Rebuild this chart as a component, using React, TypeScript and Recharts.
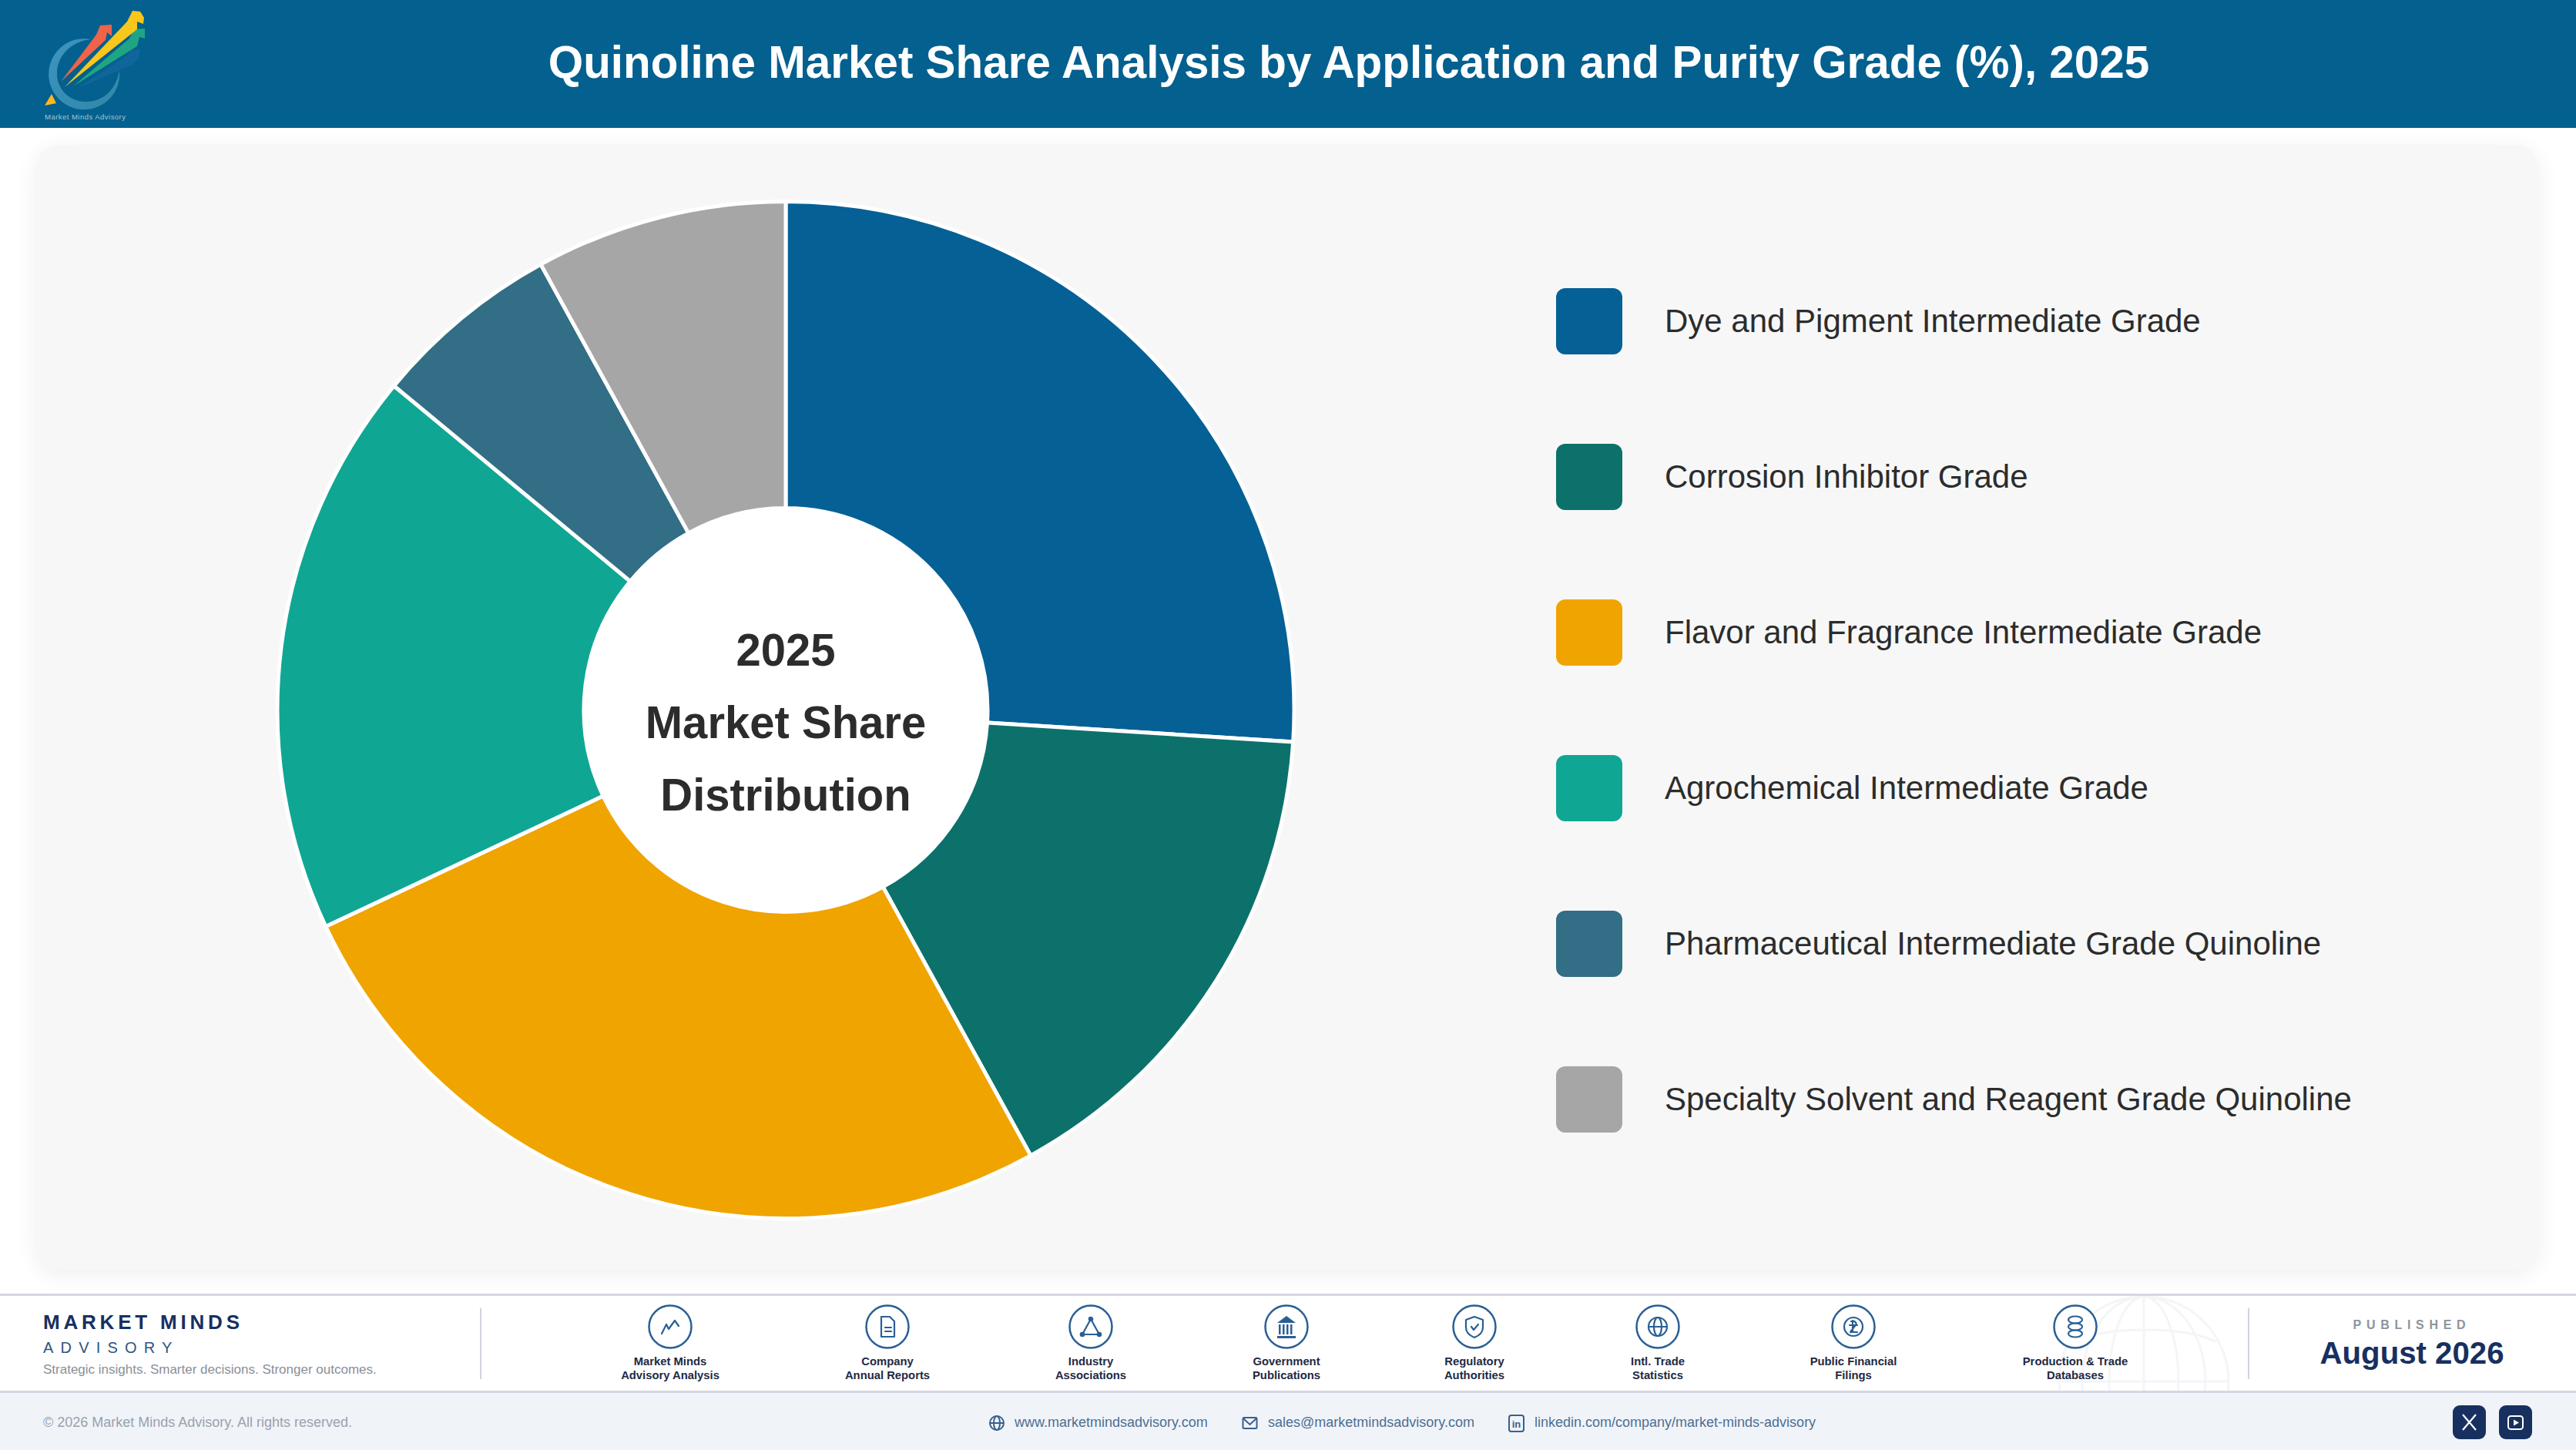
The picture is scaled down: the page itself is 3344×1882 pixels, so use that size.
import React from "react";
import { PieChart, Pie, Cell, Legend } from "recharts";

const categories = [
  "Dye and Pigment Intermediate Grade",
  "Corrosion Inhibitor Grade",
  "Flavor and Fragrance Intermediate Grade",
  "Agrochemical Intermediate Grade",
  "Pharmaceutical Intermediate Grade Quinoline",
  "Specialty Solvent and Reagent Grade Quinoline",
];
const shares = [26, 16, 26, 18, 6, 8];
const colors = ["#056096", "#0C716B", "#F0A400", "#10A694", "#326E85", "#A6A6A6"];
const centerLines = ["2025", "Market Share", "Distribution"];
const title = "Quinoline Market Share Analysis by Application and Purity Grade (%), 2025";
const sources = [
  ["Market Minds", "Advisory Analysis"],
  ["Company", "Annual Reports"],
  ["Industry", "Associations"],
  ["Government", "Publications"],
  ["Regulatory", "Authorities"],
  ["Intl. Trade", "Statistics"],
  ["Public Financial", "Filings"],
  ["Production & Trade", "Databases"],
];
const sourceX = [870, 1152, 1416, 1670, 1914, 2152, 2406, 2694];

const rows = categories.map((name, i) => ({ name, value: shares[i] }));
const FONT = "'Liberation Sans', Arial, sans-serif";
const NAVY = "#17305F";
const ICON = "#2A5F95";

const abs = (s: React.CSSProperties): React.CSSProperties => ({ position: "absolute", whiteSpace: "nowrap", ...s });

function SourceGlyph({ i }: { i: number }) {
  const p = { fill: "none", stroke: ICON, strokeWidth: 2.2, strokeLinejoin: "round" as const, strokeLinecap: "round" as const };
  switch (i) {
    case 0:
      return <path d="M-11 9 L-5 -3 L-2 3 L6 -8 L11 -1" {...p} />;
    case 1:
      return (
        <g {...p}>
          <path d="M-8 -13 H3 L9 -7 V13 H-8 Z" />
          <path d="M-3 1 H5 M-3 6 H5" />
        </g>
      );
    case 2:
      return (
        <g {...p}>
          <path d="M0 -10 L-11 10 H11 Z" />
          <circle cx="0" cy="-10" r="2.2" fill={ICON} />
          <circle cx="-11" cy="10" r="2.2" fill={ICON} />
          <circle cx="11" cy="10" r="2.2" fill={ICON} />
        </g>
      );
    case 3:
      return (
        <g fill={ICON}>
          <path d="M0 -14 L12 -5 H-12 Z" />
          <rect x="-12" y="12" width="24" height="3" />
          <rect x="-10" y="-3" width="2.5" height="13" />
          <rect x="-5" y="-3" width="2.5" height="13" />
          <rect x="0" y="-3" width="2.5" height="13" />
          <rect x="5" y="-3" width="2.5" height="13" />
        </g>
      );
    case 4:
      return (
        <g {...p}>
          <path d="M0 -13 L11 -9 V1 C11 8 5 12 0 14 C-5 12 -11 8 -11 1 V-9 Z" />
          <path d="M-4 0 L-1 4 L5 -3" />
        </g>
      );
    case 5:
      return (
        <g {...p}>
          <circle r="12" />
          <ellipse rx="5" ry="12" />
          <path d="M-12 0 H12" />
        </g>
      );
    case 6:
      return (
        <g {...p}>
          <circle r="12" />
          <path d="M-3 -7 C3 -9 6 -3 1 0 L-4 7 H5 M-5 -2 H5 M-1 -8 V6" />
        </g>
      );
    default:
      return (
        <g {...p}>
          <ellipse cy="-9" rx="9" ry="4.5" />
          <ellipse cy="0" rx="9" ry="4.5" />
          <ellipse cy="9" rx="9" ry="4.5" />
        </g>
      );
  }
}

function Logo() {
  return (
    <svg width="220" height="166" style={{ position: "absolute", left: 0, top: 0 }}>
      <defs>
        <linearGradient id="ring" x1="0" y1="0" x2="1" y2="1">
          <stop offset="0" stopColor="#3E94BE" />
          <stop offset="1" stopColor="#2F87A8" />
        </linearGradient>
      </defs>
      <path d="M118 51 A46 46 0 1 0 155 92 C150 118 132 133 110 132 C88 131 74 114 74 96 C74 72 92 54 118 51 Z" fill="url(#ring)" />
      <path d="M100 115 L165 72 L170 65 L182 64 L180 76 L172 84 Z" fill="#1B6BA4" opacity="0.55" />
      <path d="M95 112 L168 50 L174 38 L188 37 L188 50 L181 48 L178 60 Z" fill="#1FA584" />
      <path d="M79 106 L125 45 L130 33 L145 32 L145 47 L139 42 L137 52 Z" fill="#EF6448" />
      <path d="M84 113 L165 28 L172 14 L182 15 L187 23 L186 31 L178 28 L178 38 Z" fill="#F9C61B" />
      <path d="M58 137 L67 122 L73 134 Z" fill="#FBB81E" />
      <text x="58" y="155" fontFamily={FONT} fontSize="9.5" fill="#A4C8CF" textLength="105">Market Minds Advisory</text>
    </svg>
  );
}

function ChartLegend() {
  return (
    <div style={{ position: "relative", width: 1200, height: 1100 }}>
      {categories.map((c, i) => (
        <div key={c}>
          <div style={abs({ left: 0, top: i * 202, width: 86, height: 86, borderRadius: 12, background: colors[i] })} />
          <div style={abs({ left: 141, top: i * 202, height: 86, lineHeight: "86px", fontFamily: FONT, fontSize: 42, color: "#2C2C2C" })}>{c}</div>
        </div>
      ))}
    </div>
  );
}

export default function App() {
  return (
    <div style={{ position: "absolute", left: 0, top: 0, width: 3344, height: 1882, overflow: "hidden", background: "#fff", fontFamily: FONT }}>
      <div style={abs({ left: 0, top: 0, width: 3344, height: 166, background: "#03608F" })} />
      <Logo />
      <div style={abs({ left: 0, top: 0, width: 3502, height: 166, lineHeight: "162px", textAlign: "center", color: "#fff", fontWeight: 700, fontSize: 60, transform: "scaleX(0.973)" })}>{title}</div>

      <div style={abs({ left: 47, top: 188, width: 3248, height: 1460, background: "#F7F7F7", borderRadius: 30, boxShadow: "0 6px 30px rgba(0,0,0,0.07)" })} />

      <div style={{ position: "absolute", left: 0, top: 0 }}>
        <PieChart width={3344} height={1882} margin={{ top: 0, right: 0, bottom: 0, left: 0 }}>
          <circle cx={1020} cy={921.5} r={264} fill="#fff" />
          <Pie
            data={rows}
            dataKey="value"
            nameKey="name"
            cx={1020}
            cy={921.5}
            innerRadius={262}
            outerRadius={660}
            startAngle={90}
            endAngle={-270}
            stroke="#fff"
            strokeWidth={5}
            isAnimationActive={false}
          >
            {rows.map((r, i) => (
              <Cell key={r.name} fill={colors[i]} />
            ))}
          </Pie>
          <Legend
            layout="horizontal"
            align="center"
            verticalAlign="middle"
            wrapperStyle={{ position: "absolute", left: 2020, top: 374, width: 1200, height: 1100 }}
            content={() => <ChartLegend />}
          />
        </PieChart>
      </div>
      {centerLines.map((l, i) => (
        <div key={l} style={abs({ left: 720, width: 600, top: 844 + i * 94 - 47, height: 94, lineHeight: "94px", textAlign: "center", fontWeight: 700, fontSize: 60, transform: "scaleX(0.967)", color: "#2C2C2C" })}>{l}</div>
      ))}

      {/* footer */}
      <svg width="3344" height="126" style={{ position: "absolute", left: 0, top: 1681 }}>
        <g fill="none" stroke="#F4F5F7" strokeWidth="3">
          <circle cx="2783" cy="112" r="110" />
          <ellipse cx="2783" cy="112" rx="45" ry="110" />
          <ellipse cx="2783" cy="112" rx="80" ry="110" />
          <path d="M2673 112 H2893 M2783 2 V222 M2690 60 C2740 40 2830 40 2876 60" />
        </g>
      </svg>
      <div style={abs({ left: 0, top: 1679, width: 3344, height: 3, background: "#D4D6E4" })} />
      <div style={abs({ left: 0, top: 1805, width: 3344, height: 3, background: "#D4D6E4" })} />
      <div style={abs({ left: 0, top: 1808, width: 3344, height: 74, background: "#F0F4F9" })} />

      <div style={abs({ left: 56, top: 1700, lineHeight: "32px", fontWeight: 700, fontSize: 26, letterSpacing: 4.8, color: NAVY })}>MARKET MINDS</div>
      <div style={abs({ left: 56, top: 1737, lineHeight: "24px", fontSize: 20, letterSpacing: 9.2, color: "#2F5580" })}>ADVISORY</div>
      <div style={abs({ left: 56, top: 1766, lineHeight: "24px", fontSize: 17, color: "#8A8F99" })}>Strategic insights. Smarter decisions. Stronger outcomes.</div>
      <div style={abs({ left: 623, top: 1698, width: 2, height: 92, background: "#D0D4DC" })} />
      <div style={abs({ left: 2918, top: 1698, width: 2, height: 92, background: "#D0D4DC" })} />

      {sources.map((s, i) => (
        <div key={s[0]}>
          <svg width="64" height="64" viewBox="-32 -32 64 64" style={{ position: "absolute", left: sourceX[i] - 32, top: 1690 }}>
            <circle r="27.5" fill="#fff" stroke={ICON} strokeWidth="2.5" />
            <SourceGlyph i={i} />
          </svg>
          {s.map((t, j) => (
            <div key={t} style={abs({ left: sourceX[i] - 150, width: 300, top: 1758 + j * 18, lineHeight: "18px", textAlign: "center", fontWeight: 700, fontSize: 14.8, color: "#1E2A44" })}>{t}</div>
          ))}
        </div>
      ))}

      <div style={abs({ left: 2931, width: 400, top: 1709, lineHeight: "22px", textAlign: "center", fontWeight: 700, fontSize: 16, letterSpacing: 6.7, color: "#8E939E" })}>PUBLISHED</div>
      <div style={abs({ left: 2931, width: 400, top: 1733, lineHeight: "48px", textAlign: "center", fontWeight: 700, fontSize: 40.2, color: NAVY })}>August 2026</div>

      <div style={abs({ left: 56, top: 1834, lineHeight: "24px", fontSize: 18, color: "#9AA1AE" })}>© 2026 Market Minds Advisory. All rights reserved.</div>
      <div style={abs({ left: 1317, top: 1834, lineHeight: "24px", fontSize: 18, color: "#4E6E92" })}>www.marketmindsadvisory.com</div>
      <div style={abs({ left: 1646, top: 1834, lineHeight: "24px", fontSize: 18, color: "#4E6E92" })}>sales@marketmindsadvisory.com</div>
      <div style={abs({ left: 1992, top: 1834, lineHeight: "24px", fontSize: 18, color: "#4E6E92" })}>linkedin.com/company/market-minds-advisory</div>
      <svg width="3344" height="74" style={{ position: "absolute", left: 0, top: 1808 }}>
        <g fill="none" stroke="#3A5F8C" strokeWidth="2">
          <circle cx="1294" cy="39" r="9" />
          <ellipse cx="1294" cy="39" rx="4" ry="9" />
          <path d="M1285 39 H1303" />
          <rect x="1613.5" y="32" width="18" height="14" rx="1.5" />
          <path d="M1614 33 L1622.5 41 L1631 33" />
          <rect x="1959" y="29" width="19" height="21" rx="3" />
        </g>
        <text x="1968.5" y="45" textAnchor="middle" fontFamily={FONT} fontSize="13" fontWeight="700" fill="#3A5F8C">in</text>
        <rect x="3184" y="16" width="43" height="44" rx="9" fill={NAVY} />
        <rect x="3244" y="16" width="43" height="44" rx="9" fill={NAVY} />
        <path d="M3197 28 L3214 48 M3214 28 L3197 48" stroke="#fff" strokeWidth="2.2" fill="none" />
        <rect x="3256" y="30" width="19" height="17" rx="3.5" stroke="#fff" strokeWidth="2" fill="none" />
        <path d="M3263 34.5 L3270 38.5 L3263 42.5 Z" fill="#fff" />
      </svg>
    </div>
  );
}
